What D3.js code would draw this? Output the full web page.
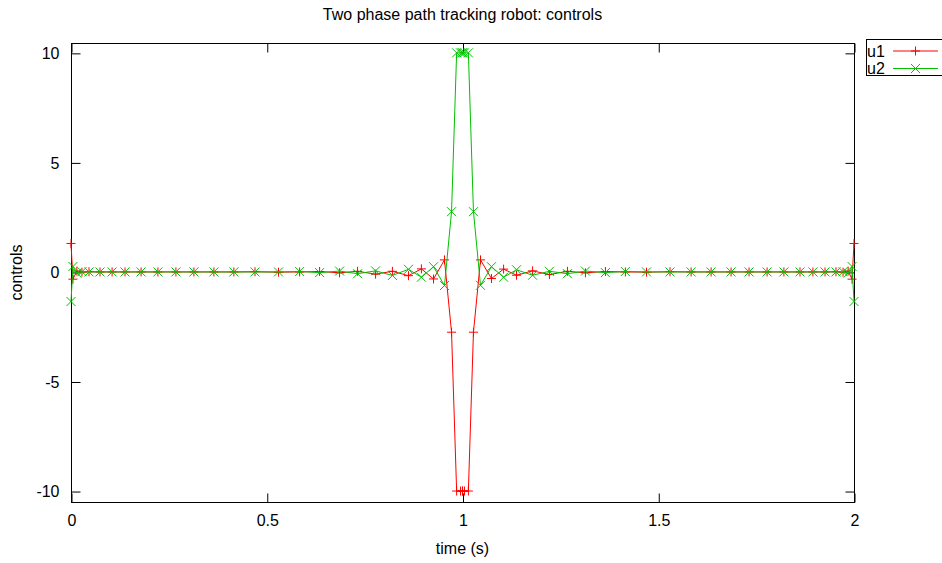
<!DOCTYPE html>
<html>
<head>
<meta charset="utf-8">
<script src="https://cdn.jsdelivr.net/npm/d3@7"></script>
<style>
  html, body { margin: 0; padding: 0; background: #fff; }
  svg text { font-family: "Liberation Sans", Arial, sans-serif; font-size: 16px; fill: #000; }
</style>
</head>
<body>
<svg id="chart" width="942" height="563"></svg>
<script>
// ---- data ----
const title = "Two phase path tracking robot: controls";
const xLabel = "time (s)";
const yLabel = "controls";
const xTicks = [0, 0.5, 1, 1.5, 2];
const xTickLabels = ["0", "0.5", "1", "1.5", "2"];
const yTicks = [-10, -5, 0, 5, 10];
const yTickLabels = ["-10", "-5", "0", "5", "10"];

const timePhase1 = [0, 0.005, 0.015, 0.028, 0.046, 0.074, 0.105, 0.138, 0.179, 0.222,
  0.268, 0.314, 0.365, 0.416, 0.470, 0.530, 0.584, 0.635, 0.686, 0.732,
  0.778, 0.821, 0.862, 0.895, 0.926, 0.954, 0.972, 0.985, 0.995, 1.0];
const timePhase2 = [1.0, 1.005, 1.015, 1.028, 1.046, 1.074, 1.105, 1.138, 1.179, 1.222,
  1.268, 1.314, 1.365, 1.416, 1.470, 1.530, 1.584, 1.635, 1.686, 1.732,
  1.778, 1.821, 1.862, 1.895, 1.926, 1.954, 1.972, 1.985, 1.995, 2.0];

const u1Phase1 = [1.30, -0.33, 0.04, -0.01, 0.01, 0, 0, 0, 0, 0,
  0, 0, 0, 0, 0.01, -0.01, 0.0, 0.02, -0.04, 0.03,
  -0.10, 0.03, -0.17, 0.14, -0.32, 0.55, -2.75, -10, -10, -10];
const u2Phase1 = [-1.35, 0.25, -0.05, 0.01, 0, 0, 0, 0, 0, 0,
  0, 0, 0, 0, 0, 0, 0.02, -0.03, 0.04, -0.08,
  0.05, -0.16, 0.12, -0.24, 0.24, -0.62, 2.75, 10, 10, 10];
const u1Phase2 = [-10, -10, -10, -2.75, 0.55, -0.30, 0.13, -0.15, 0.05, -0.12,
  0.03, -0.04, 0.02, 0.0, -0.01, 0.01, 0, 0, 0, 0,
  0, 0, 0, 0, 0, 0.01, -0.01, 0.04, -0.33, 1.30];
const u2Phase2 = [10, 10, 10, 2.75, -0.61, 0.24, -0.24, 0.10, -0.15, 0.03,
  -0.08, 0.04, -0.03, 0.02, 0, 0, 0, 0, 0, 0,
  0, 0, 0, 0, 0, 0, 0.01, -0.05, 0.25, -1.35];

const seriesNames = ["u1", "u2"];
const seriesColors = ["#ff0000", "#00c000"];

(function () {
const FS = 16;
// ---- build series ----
const times = timePhase1.concat(timePhase2);
const u1 = u1Phase1.concat(u1Phase2);
const u2 = u2Phase1.concat(u2Phase2);
const series = [
  { name: seriesNames[0], color: seriesColors[0], marker: "plus", pts: times.map((t, i) => [t, u1[i]]) },
  { name: seriesNames[1], color: seriesColors[1], marker: "cross", pts: times.map((t, i) => [t, u2[i]]) }
];

// ---- layout ----
const svg = d3.select("#chart");
const mLeft = 71, mRight = 854, mTop = 43, mBottom = 502;
const x = d3.scaleLinear().domain([0, 2]).range([mLeft, mRight]);
const y = d3.scaleLinear().domain([-10.5, 10.45]).range([mBottom, mTop]);

const tickLen = 9;

// frame
svg.append("rect")
  .attr("x", mLeft + 0.5).attr("y", mTop + 0.5)
  .attr("width", mRight - mLeft).attr("height", mBottom - mTop)
  .attr("fill", "none").attr("stroke", "#000").attr("stroke-width", 1);

// axes via d3 axis generators (inner ticks, mirrored)
const axB = d3.axisBottom(x).tickValues(xTicks).tickFormat((d, i) => xTickLabels[i]).tickSizeInner(-tickLen).tickSizeOuter(0).tickPadding(12);
const axT = d3.axisTop(x).tickValues(xTicks).tickFormat("").tickSizeInner(-tickLen).tickSizeOuter(0);
const axL = d3.axisLeft(y).tickValues(yTicks).tickFormat((d, i) => yTickLabels[i]).tickSizeInner(-tickLen).tickSizeOuter(0).tickPadding(12);
const axR = d3.axisRight(y).tickValues(yTicks).tickFormat("").tickSizeInner(-tickLen).tickSizeOuter(0);

function styleAxis(g) {
  g.select(".domain").remove();
  g.selectAll(".tick line").attr("stroke", "#000");
  g.selectAll("text").attr("font-family", "Liberation Sans, Arial, sans-serif").attr("font-size", FS).attr("fill", "#000");
}
svg.append("g").attr("transform", `translate(0.5,${mBottom + 0.5})`).call(axB).call(styleAxis);
svg.append("g").attr("transform", `translate(0.5,${mTop + 0.5})`).call(axT).call(styleAxis);
svg.append("g").attr("transform", `translate(${mLeft + 0.5},0.5)`).call(axL).call(styleAxis);
svg.append("g").attr("transform", `translate(${mRight + 0.5},0.5)`).call(axR).call(styleAxis);

// titles
svg.append("text").attr("x", (mLeft + mRight) / 2).attr("y", 20).attr("text-anchor", "middle").text(title);
svg.append("text").attr("x", (mLeft + mRight) / 2).attr("y", 554).attr("text-anchor", "middle").text(xLabel);
svg.append("text").attr("transform", `translate(22,${(mTop + mBottom) / 2}) rotate(-90)`).attr("text-anchor", "middle").text(yLabel);

// lines + markers
const line = d3.line().x(d => x(d[0])).y(d => y(d[1]));
const ms = 4.5;
function markerPath(kind, cx, cy) {
  if (kind === "plus") return `M${cx - ms},${cy}H${cx + ms}M${cx},${cy - ms}V${cy + ms}`;
  return `M${cx - ms},${cy - ms}L${cx + ms},${cy + ms}M${cx - ms},${cy + ms}L${cx + ms},${cy - ms}`;
}
const plot = svg.append("g");
series.forEach(s => {
  plot.append("path").datum(s.pts).attr("d", line)
    .attr("fill", "none").attr("stroke", s.color).attr("stroke-width", 1);
  plot.append("path")
    .attr("d", s.pts.map(p => markerPath(s.marker, x(p[0]), y(p[1]))).join(""))
    .attr("fill", "none").attr("stroke", s.color).attr("stroke-width", 1);
});

// legend
const lg = svg.append("g");
lg.append("rect").attr("x", 866.5).attr("y", 39.5).attr("width", 90).attr("height", 36)
  .attr("fill", "#fff").attr("stroke", "#000");
series.forEach((s, i) => {
  const cy = 51 + i * 17.5;
  lg.append("text").attr("x", 867).attr("y", cy + 5.5).text(s.name);
  lg.append("line").attr("x1", 893).attr("x2", 938).attr("y1", cy).attr("y2", cy)
    .attr("stroke", s.color);
  lg.append("path").attr("d", markerPath(s.marker, 915.5, cy)).attr("stroke", s.color).attr("fill", "none");
});
})();
</script>
</body>
</html>
